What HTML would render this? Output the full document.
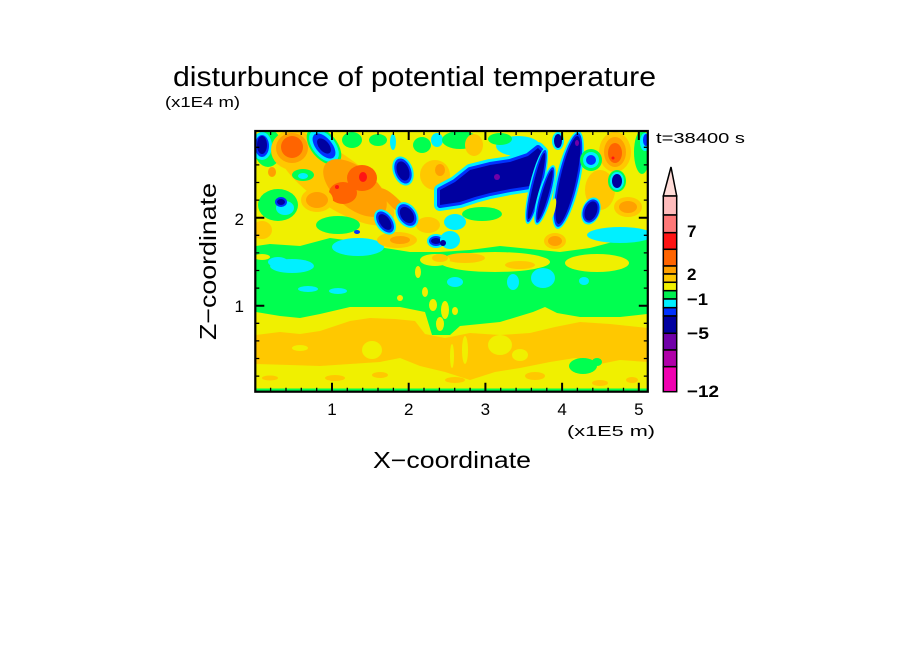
<!DOCTYPE html>
<html><head><meta charset="utf-8"><style>
html,body{margin:0;padding:0;background:#fff;}
svg{display:block;}
text{font-family:"Liberation Sans",sans-serif;fill:#000;}
.n{fill:#0000a0}.b{fill:#0032ff}.c{fill:#00f0ff}.g{fill:#00ff50}.y{fill:#f0f000}.d{fill:#ffc800}.o{fill:#ffa000}.r{fill:#ff6400}.R{fill:#ff1414}.p{fill:#7000a8}
</style></head><body>
<svg width="904" height="654" viewBox="0 0 904 654" xmlns="http://www.w3.org/2000/svg">
<rect width="904" height="654" fill="#fff"/>
<defs><clipPath id="cp"><rect x="256" y="131" width="392" height="261"/></clipPath></defs>
<g clip-path="url(#cp)">
<rect x="256" y="131" width="392" height="261" class="g"/>
<!-- lower yellow -->
<path class="y" d="M256,312 L280,316 L300,318 L320,314 L350,307 L400,307 L425,312 L432,335 L450,335 L460,326 L470,325 L500,322 L533,312 L545,307 L557,313 L580,317 L620,317 L647,314 L648,392 L256,392 Z"/>
<!-- gold band -->
<path class="d" d="M256,335 L280,332 L300,334 L320,331 L335,326 L350,321 L370,318 L395,319 L415,321 L425,334 L445,338 L470,333 L500,335 L530,333 L555,327 L580,322 L610,324 L648,328 L648,362 L620,360 L600,364 L575,358 L550,362 L520,368 L495,372 L470,380 L445,372 L420,366 L400,358 L380,362 L350,364 L320,366 L290,365 L256,364 Z"/>
<ellipse class="y" cx="372" cy="350" rx="10" ry="9"/>
<ellipse class="y" cx="500" cy="345" rx="12" ry="10"/>
<ellipse class="y" cx="520" cy="355" rx="8" ry="6"/>
<ellipse class="y" cx="465" cy="350" rx="3" ry="14"/>
<ellipse class="y" cx="452" cy="356" rx="2" ry="12"/>
<ellipse class="y" cx="300" cy="348" rx="8" ry="3"/>
<ellipse class="g" cx="583" cy="366" rx="14" ry="8"/>
<ellipse class="g" cx="597" cy="362" rx="5" ry="4"/>
<ellipse class="d" cx="270" cy="378" rx="8" ry="2.5"/>
<ellipse class="d" cx="335" cy="378" rx="10" ry="3"/>
<ellipse class="d" cx="380" cy="375" rx="8" ry="3"/>
<ellipse class="d" cx="455" cy="380" rx="10" ry="3"/>
<ellipse class="d" cx="535" cy="376" rx="10" ry="4"/>
<ellipse class="d" cx="600" cy="383" rx="8" ry="3"/>
<ellipse class="d" cx="632" cy="380" rx="6" ry="3"/>
<rect class="g" x="256" y="388.5" width="392" height="4"/>
<!-- yellow streaks in green band -->
<ellipse class="y" cx="418" cy="272" rx="3" ry="6"/>
<ellipse class="y" cx="425" cy="292" rx="3" ry="5"/>
<ellipse class="y" cx="433" cy="305" rx="4" ry="6"/>
<ellipse class="y" cx="445" cy="310" rx="4" ry="9"/>
<ellipse class="y" cx="440" cy="324" rx="4" ry="7"/>
<ellipse class="y" cx="455" cy="311" rx="3" ry="4"/>
<ellipse class="y" cx="400" cy="298" rx="3" ry="3"/>
<!-- cyan patches -->
<ellipse class="c" cx="292" cy="266" rx="22" ry="7"/>
<ellipse class="c" cx="278" cy="262" rx="10" ry="5"/>
<ellipse class="c" cx="308" cy="289" rx="10" ry="3"/>
<ellipse class="c" cx="338" cy="291" rx="9" ry="3"/>
<ellipse class="c" cx="455" cy="282" rx="8" ry="5"/>
<ellipse class="c" cx="513" cy="282" rx="6" ry="8"/>
<ellipse class="c" cx="543" cy="278" rx="12" ry="10"/>
<ellipse class="c" cx="584" cy="281" rx="5" ry="4"/>
<!-- yellow/gold top of green band -->
<ellipse class="y" cx="495" cy="262" rx="55" ry="10"/>
<ellipse class="d" cx="465" cy="258" rx="20" ry="5"/>
<ellipse class="d" cx="520" cy="265" rx="15" ry="4"/>
<ellipse class="y" cx="597" cy="263" rx="32" ry="9"/>
<ellipse class="y" cx="435" cy="260" rx="15" ry="6"/>
<ellipse class="d" cx="440" cy="258" rx="8" ry="4"/>
<ellipse class="y" cx="262" cy="257" rx="8" ry="3"/>
<!-- upper yellow base -->
<path class="y" d="M256,130 H648 V236 L620,240 L590,248 L560,252 L540,250 L500,246 L470,250 L440,252 L410,252 L385,248 L360,242 L330,238 L300,246 L270,244 L256,246 Z"/>
<!-- left upper features -->
<ellipse class="g" cx="268" cy="148" rx="14" ry="19"/>
<ellipse class="c" cx="262" cy="146" rx="10" ry="14"/>
<ellipse class="b" cx="262" cy="146" rx="7" ry="11"/>
<ellipse class="n" cx="262" cy="145" rx="5" ry="9"/>
<g transform="translate(335,180) rotate(35)">
<ellipse class="d" rx="70" ry="26"/></g>
<ellipse class="d" cx="293" cy="150" rx="22" ry="20"/>
<ellipse class="o" cx="292" cy="148" rx="16" ry="15"/>
<ellipse class="r" cx="292" cy="147" rx="11" ry="11"/>
<g transform="translate(324,146) rotate(50)">
<ellipse class="g" rx="22" ry="13"/><ellipse class="c" rx="19" ry="11"/><ellipse class="b" rx="15" ry="8"/><ellipse class="n" rx="9" ry="5"/></g>
<ellipse class="g" cx="352" cy="140" rx="10" ry="8"/>
<ellipse class="g" cx="303" cy="175" rx="11" ry="6"/>
<ellipse class="c" cx="303" cy="176" rx="5" ry="3"/>
<ellipse class="o" cx="272" cy="172" rx="4" ry="5"/>
<g transform="translate(355,188) rotate(40)">
<ellipse class="o" rx="38" ry="20"/></g>
<ellipse class="r" cx="362" cy="178" rx="15" ry="13"/>
<ellipse class="r" cx="343" cy="193" rx="14" ry="11"/>
<ellipse class="R" cx="363" cy="177" rx="4" ry="5"/>
<ellipse class="R" cx="337" cy="187" rx="2" ry="2"/>
<ellipse class="o" cx="395" cy="203" rx="20" ry="5" transform="rotate(45 395 203)"/>
<ellipse class="d" cx="317" cy="200" rx="16" ry="12"/>
<ellipse class="o" cx="317" cy="200" rx="11" ry="8"/>
<ellipse class="g" cx="278" cy="205" rx="20" ry="16"/>
<ellipse class="c" cx="285" cy="208" rx="9" ry="7"/>
<ellipse class="b" cx="281" cy="202" rx="6" ry="5"/>
<ellipse class="n" cx="281" cy="202" rx="4" ry="3"/>
<ellipse class="d" cx="262" cy="230" rx="10" ry="9"/>
<ellipse class="g" cx="338" cy="225" rx="22" ry="9"/>
<ellipse class="c" cx="358" cy="247" rx="26" ry="9"/>
<ellipse class="b" cx="357" cy="232" rx="3" ry="2"/>
<!-- top row middle -->
<ellipse class="g" cx="378" cy="140" rx="9" ry="6"/>
<ellipse class="c" cx="393" cy="142" rx="3" ry="8"/>
<ellipse class="g" cx="422" cy="145" rx="9" ry="8"/>
<ellipse class="c" cx="437" cy="140" rx="6" ry="7"/>
<ellipse class="d" cx="435" cy="175" rx="15" ry="15"/>
<ellipse class="o" cx="440" cy="170" rx="5" ry="6"/>
<ellipse class="d" cx="428" cy="225" rx="12" ry="8"/>
<ellipse class="d" cx="397" cy="240" rx="20" ry="8"/>
<ellipse class="o" cx="400" cy="240" rx="10" ry="4"/>
<!-- navy blobs left-centre -->
<g transform="translate(403,171) rotate(-20)"><ellipse class="c" rx="10" ry="15"/><ellipse class="b" rx="8" ry="13"/><ellipse class="n" rx="6" ry="10"/></g>
<g transform="translate(385,222) rotate(-35)"><ellipse class="c" rx="9" ry="14"/><ellipse class="b" rx="7" ry="12"/><ellipse class="n" rx="5" ry="9"/></g>
<g transform="translate(407,215) rotate(-35)"><ellipse class="c" rx="10" ry="14"/><ellipse class="b" rx="8" ry="12"/><ellipse class="n" rx="6" ry="9"/></g>
<g transform="translate(436,241)"><ellipse class="c" rx="9" ry="7"/><ellipse class="b" rx="7" ry="5"/><ellipse class="n" rx="5" ry="3"/></g>
<g transform="translate(444,196)"><ellipse class="c" rx="9" ry="12"/><ellipse class="b" rx="7" ry="10"/><ellipse class="n" rx="5" ry="8"/></g>
<!-- middle top -->
<ellipse class="g" cx="460" cy="140" rx="18" ry="9"/>
<ellipse class="d" cx="474" cy="145" rx="9" ry="11"/>
<ellipse class="c" cx="518" cy="146" rx="22" ry="10"/>
<ellipse class="g" cx="500" cy="139" rx="12" ry="6"/>
<ellipse class="c" cx="455" cy="222" rx="11" ry="8"/>
<ellipse class="g" cx="482" cy="214" rx="20" ry="7"/>
<ellipse class="c" cx="450" cy="240" rx="10" ry="9"/>
<ellipse class="n" cx="443" cy="243" rx="3" ry="3"/>
<!-- navy band -->
<path class="c" stroke="#00f0ff" stroke-width="12" stroke-linejoin="round" d="M440,190 L455,182 L470,170 L490,165 L510,162 L528,156 L538,148 L542,152 L535,170 L530,186 L510,189 L490,193 L475,197 L460,202 L440,205 Z"/>
<path class="b" stroke="#0032ff" stroke-width="6" stroke-linejoin="round" d="M440,190 L455,182 L470,170 L490,165 L510,162 L528,156 L538,148 L542,152 L535,170 L530,186 L510,189 L490,193 L475,197 L460,202 L440,205 Z"/>
<path class="n" d="M440,190 L455,182 L470,170 L490,165 L510,162 L528,156 L538,148 L542,152 L535,170 L530,186 L510,189 L490,193 L475,197 L460,202 L440,205 Z"/>
<ellipse class="p" cx="497" cy="177" rx="3" ry="3"/>
<!-- stripes -->
<g transform="translate(536.5,186) rotate(103.6)"><ellipse class="c" rx="39" ry="7"/><ellipse class="b" rx="37" ry="5.5"/><ellipse class="n" rx="34" ry="3.5"/></g>
<g transform="translate(545,195) rotate(106)"><ellipse class="c" rx="31" ry="7"/><ellipse class="b" rx="29" ry="5"/><ellipse class="n" rx="26" ry="3.2"/></g>
<g transform="translate(568,180) rotate(102.5)"><ellipse class="c" rx="50" ry="12"/><ellipse class="b" rx="48" ry="10"/><ellipse class="n" rx="45" ry="8"/></g>
<g transform="translate(558,141)"><ellipse class="c" rx="6" ry="9"/><ellipse class="n" rx="4" ry="7"/></g>
<ellipse class="p" cx="577" cy="143" rx="2" ry="3"/>
<ellipse class="y" cx="552" cy="210" rx="3" ry="12" transform="rotate(15 552 210)"/>
<!-- right -->
<ellipse class="d" cx="600" cy="190" rx="15" ry="20"/>
<ellipse class="d" cx="615" cy="152" rx="16" ry="20"/>
<ellipse class="o" cx="615" cy="152" rx="11" ry="15"/>
<ellipse class="r" cx="615" cy="153" rx="7" ry="10"/>
<ellipse class="R" cx="613" cy="158" rx="1.5" ry="1.5"/>
<g transform="translate(591,160)"><ellipse class="g" rx="11" ry="11"/><ellipse class="c" rx="8" ry="8"/><ellipse class="b" rx="5" ry="5"/></g>
<g transform="translate(591,211) rotate(20)"><ellipse class="c" rx="9" ry="14"/><ellipse class="b" rx="8" ry="12"/><ellipse class="n" rx="6" ry="10"/></g>
<g transform="translate(617,181)"><ellipse class="g" rx="9" ry="11"/><ellipse class="c" rx="7" ry="9"/><ellipse class="n" rx="5" ry="7"/></g>
<ellipse class="d" cx="628" cy="207" rx="14" ry="10"/>
<ellipse class="o" cx="628" cy="207" rx="9" ry="6"/>
<ellipse class="g" cx="642" cy="152" rx="8" ry="22"/>
<ellipse class="c" cx="645" cy="142" rx="5" ry="9"/>
<ellipse class="b" cx="646" cy="140" rx="3" ry="6"/>
<ellipse class="c" cx="620" cy="235" rx="33" ry="8"/>
<ellipse class="d" cx="555" cy="241" rx="11" ry="8"/>
<ellipse class="o" cx="555" cy="241" rx="7" ry="5"/>
</g>
<!-- frame -->
<rect x="255.3" y="131" width="392.5" height="260.7" fill="none" stroke="#000" stroke-width="2.2"/>
<path fill="none" stroke="#000" stroke-width="1.3" d="M270.6,391.7v-4M286,391.7v-4M301.3,391.7v-4M316.7,391.7v-4M347.3,391.7v-4M362.7,391.7v-4M378,391.7v-4M393.4,391.7v-4M424,391.7v-4M439.4,391.7v-4M454.7,391.7v-4M470.1,391.7v-4M500.7,391.7v-4M516.1,391.7v-4M531.4,391.7v-4M546.8,391.7v-4M577.4,391.7v-4M592.8,391.7v-4M608.1,391.7v-4M623.5,391.7v-4
M270.6,131v4M286,131v4M301.3,131v4M316.7,131v4M347.3,131v4M362.7,131v4M378,131v4M393.4,131v4M424,131v4M439.4,131v4M454.7,131v4M470.1,131v4M500.7,131v4M516.1,131v4M531.4,131v4M546.8,131v4M577.4,131v4M592.8,131v4M608.1,131v4M623.5,131v4
M255.3,376.1h4M255.3,358.5h4M255.3,340.9h4M255.3,323.3h4M255.3,288.1h4M255.3,270.5h4M255.3,252.9h4M255.3,235.3h4M255.3,200.1h4M255.3,182.5h4M255.3,164.9h4M255.3,147.3h4
M647.8,376.1h-4M647.8,358.5h-4M647.8,340.9h-4M647.8,323.3h-4M647.8,288.1h-4M647.8,270.5h-4M647.8,252.9h-4M647.8,235.3h-4M647.8,200.1h-4M647.8,182.5h-4M647.8,164.9h-4M647.8,147.3h-4"/>
<path fill="none" stroke="#000" stroke-width="2" d="M332,391.7v-9M408.7,391.7v-9M485.4,391.7v-9M562.1,391.7v-9M638.8,391.7v-9
M332,131v9M408.7,131v9M485.4,131v9M562.1,131v9M638.8,131v9
M255.3,305.7h9M255.3,217.7h9M647.8,305.7h-9M647.8,217.7h-9"/>
<!-- tick labels -->
<g font-size="17" text-anchor="middle">
<text x="332" y="415">1</text>
<text x="408.7" y="415">2</text>
<text x="485.4" y="415">3</text>
<text x="562.1" y="415">4</text>
<text x="638.8" y="415">5</text>
</g>
<g font-size="17" text-anchor="end">
<text x="244" y="225">2</text>
<text x="244" y="312">1</text>
</g>
<!-- titles -->
<text x="173" y="86" font-size="28" textLength="483" lengthAdjust="spacingAndGlyphs">disturbunce of potential temperature</text>
<text x="165" y="107" font-size="15" textLength="75" lengthAdjust="spacingAndGlyphs">(x1E4 m)</text>
<text x="567" y="436" font-size="15" textLength="88" lengthAdjust="spacingAndGlyphs">(x1E5 m)</text>
<text x="373" y="468" font-size="23" textLength="158" lengthAdjust="spacingAndGlyphs">X−coordinate</text>
<text transform="translate(216,340) rotate(-90)" font-size="23" textLength="157" lengthAdjust="spacingAndGlyphs">Z−coordinate</text>
<text x="656" y="143" font-size="15" textLength="89" lengthAdjust="spacingAndGlyphs">t=38400 s</text>
<!-- colorbar -->
<g stroke="#000" stroke-width="1.5">
<path d="M671,167 L676.7,196 L663.3,196 Z" fill="#ffdcd8"/>
<rect x="663.3" y="196" width="13.4" height="19" fill="#ffbcbc"/>
<rect x="663.3" y="215" width="13.4" height="17.7" fill="#ff7878"/>
<rect x="663.3" y="232.7" width="13.4" height="16.6" fill="#ff1414"/>
<rect x="663.3" y="249.3" width="13.4" height="16.7" fill="#ff6400"/>
<rect x="663.3" y="266" width="13.4" height="8" fill="#ffa000"/>
<rect x="663.3" y="274" width="13.4" height="8.3" fill="#ffc800"/>
<rect x="663.3" y="282.3" width="13.4" height="8.4" fill="#f0f000"/>
<rect x="663.3" y="290.7" width="13.4" height="8.3" fill="#00f050"/>
<rect x="663.3" y="299" width="13.4" height="8.7" fill="#00f0ff"/>
<rect x="663.3" y="307.7" width="13.4" height="8.3" fill="#0032ff"/>
<rect x="663.3" y="316" width="13.4" height="17.3" fill="#0000a0"/>
<rect x="663.3" y="333.3" width="13.4" height="16.7" fill="#7000a8"/>
<rect x="663.3" y="350" width="13.4" height="16.7" fill="#b000a8"/>
<rect x="663.3" y="366.7" width="13.4" height="25" fill="#f000b0"/>
</g>
<g font-size="17" font-weight="bold">
<text x="687" y="237">7</text>
<text x="687" y="280">2</text>
<text x="687" y="305" textLength="21" lengthAdjust="spacingAndGlyphs">−1</text>
<text x="687" y="339" textLength="22" lengthAdjust="spacingAndGlyphs">−5</text>
<text x="687" y="397" textLength="32" lengthAdjust="spacingAndGlyphs">−12</text>
</g>
</svg>
</body></html>
